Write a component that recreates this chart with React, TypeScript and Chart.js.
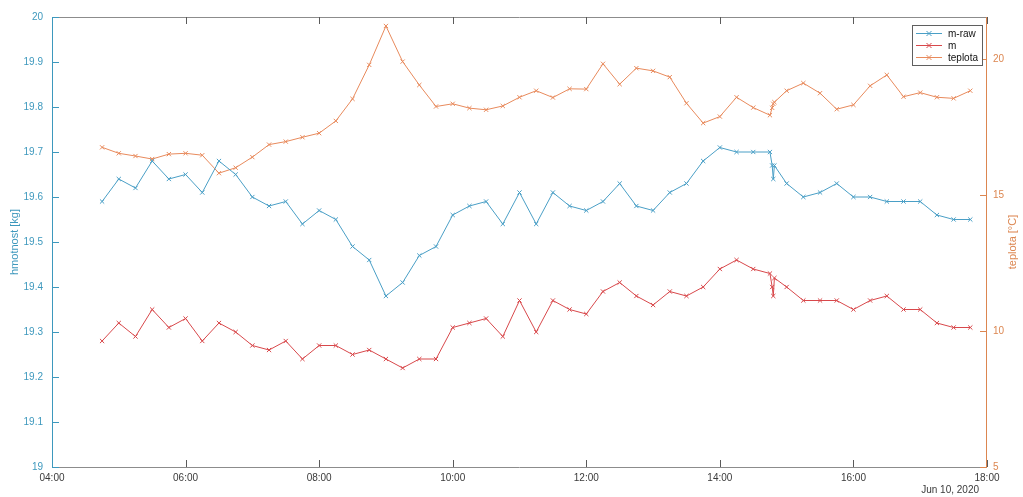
import React, { useEffect, useRef } from "react";
import { Chart, registerables } from "chart.js";

Chart.register(...registerables);

// ---------- data ----------
const times = [
  "04:45", "05:00", "05:15", "05:30", "05:45", "06:00", "06:15", "06:30", "06:45",
  "07:00", "07:15", "07:30", "07:45", "08:00", "08:15", "08:30", "08:45",
  "09:00", "09:15", "09:30", "09:45", "10:00", "10:15", "10:30", "10:45",
  "11:00", "11:15", "11:30", "11:45", "12:00", "12:15", "12:30", "12:45",
  "13:00", "13:15", "13:30", "13:45", "14:00", "14:15", "14:30", "14:45",
  "14:47", "14:48", "14:49",
  "15:00", "15:15", "15:30", "15:45", "16:00", "16:15", "16:30", "16:45",
  "17:00", "17:15", "17:30", "17:45",
];

const mRaw = [
  19.59, 19.64, 19.62, 19.68, 19.64, 19.65, 19.61, 19.68, 19.65,
  19.60, 19.58, 19.59, 19.54, 19.57, 19.55, 19.49, 19.46,
  19.38, 19.41, 19.47, 19.49, 19.56, 19.58, 19.59, 19.54,
  19.61, 19.54, 19.61, 19.58, 19.57, 19.59, 19.63, 19.58,
  19.57, 19.61, 19.63, 19.68, 19.71, 19.70, 19.70, 19.70,
  19.67, 19.64, 19.67,
  19.63, 19.60, 19.61, 19.63, 19.60, 19.60, 19.59, 19.59,
  19.59, 19.56, 19.55, 19.55,
];

const mSmooth = [
  19.28, 19.32, 19.29, 19.35, 19.31, 19.33, 19.28, 19.32, 19.30,
  19.27, 19.26, 19.28, 19.24, 19.27, 19.27, 19.25, 19.26,
  19.24, 19.22, 19.24, 19.24, 19.31, 19.32, 19.33, 19.29,
  19.37, 19.30, 19.37, 19.35, 19.34, 19.39, 19.41, 19.38,
  19.36, 19.39, 19.38, 19.40, 19.44, 19.46, 19.44, 19.43,
  19.40, 19.38, 19.42,
  19.40, 19.37, 19.37, 19.37, 19.35, 19.37, 19.38, 19.35,
  19.35, 19.32, 19.31, 19.31,
];

const teplota = [
  16.75, 16.53, 16.43, 16.32, 16.50, 16.53, 16.46, 15.80, 16.00,
  16.39, 16.85, 16.96, 17.12, 17.27, 17.72, 18.53, 19.78,
  21.21, 19.90, 19.04, 18.25, 18.35, 18.19, 18.13, 18.27,
  18.59, 18.83, 18.58, 18.90, 18.89, 19.82, 19.07, 19.66,
  19.56, 19.33, 18.37, 17.64, 17.88, 18.59, 18.21, 17.93,
  18.20, 18.35, 18.41,
  18.83, 19.11, 18.74, 18.15, 18.31, 19.01, 19.41, 18.61,
  18.76, 18.59, 18.55, 18.83,
];

const seriesNames = ["m-raw", "m", "teplota"];
const xTickHours = [4, 6, 8, 10, 12, 14, 16, 18];
const xTickLabels = ["04:00", "06:00", "08:00", "10:00", "12:00", "14:00", "16:00", "18:00"];
const leftTicks = [19, 19.1, 19.2, 19.3, 19.4, 19.5, 19.6, 19.7, 19.8, 19.9, 20];
const leftTickLabels = ["19", "19.1", "19.2", "19.3", "19.4", "19.5", "19.6", "19.7", "19.8", "19.9", "20"];
const rightTicks = [5, 10, 15, 20];
const rightTickLabels = ["5", "10", "15", "20"];
const leftTitle = "hmotnost [kg]";
const rightTitle = "teplota [°C]";
const dateLabel = "Jun 10, 2020";

// ---------- style ----------
const FONT = "'Liberation Sans', Arial, sans-serif";
const LEFT_COLOR = "#3d98bd";
const RIGHT_COLOR = "#dc8650";
const BLUE = "#4a9fc6";
const RED = "#d8484b";
const ORANGE = "#e88a5c";
const TEXT = "#3a3a3a";

const toHours = (s: string) => {
  const [h, m] = s.split(":").map(Number);
  return h + m / 60;
};

const mkData = (vals: number[]) => times.map((t, i) => ({ x: toHours(t), y: vals[i] }));

const decorPlugin = {
  id: "matlabDecor",
  afterDraw(chart: any) {
    const { ctx, chartArea: a, scales } = chart;
    const x = scales.x, yL = scales.y, yR = scales.y1;
    ctx.save();
    ctx.lineWidth = 1;
    // box
    ctx.strokeStyle = "#8c8c8c";
    ctx.beginPath();
    ctx.moveTo(a.left, a.top + 0.5); ctx.lineTo(a.right, a.top + 0.5);
    ctx.moveTo(a.left, a.bottom + 0.5); ctx.lineTo(a.right, a.bottom + 0.5);
    ctx.stroke();
    // x ticks (bottom and top, inward)
    ctx.strokeStyle = "#5a5a5a";
    ctx.beginPath();
    xTickHours.forEach((h) => {
      const px = Math.round(x.getPixelForValue(h)) + 0.5;
      ctx.moveTo(px, a.bottom); ctx.lineTo(px, a.bottom - 7);
      ctx.moveTo(px, a.top); ctx.lineTo(px, a.top + 7);
    });
    ctx.stroke();
    // left axis
    ctx.strokeStyle = LEFT_COLOR;
    ctx.beginPath();
    ctx.moveTo(a.left + 0.5, a.top); ctx.lineTo(a.left + 0.5, a.bottom + 1);
    leftTicks.forEach((v) => {
      const py = Math.round(yL.getPixelForValue(v)) + 0.5;
      ctx.moveTo(a.left, py); ctx.lineTo(a.left + 7, py);
    });
    ctx.stroke();
    // right axis
    ctx.strokeStyle = RIGHT_COLOR;
    ctx.beginPath();
    ctx.moveTo(a.right - 0.5, a.top); ctx.lineTo(a.right - 0.5, a.bottom + 1);
    rightTicks.forEach((v) => {
      const py = Math.round(yR.getPixelForValue(v)) + 0.5;
      ctx.moveTo(a.right, py); ctx.lineTo(a.right - 7, py);
    });
    ctx.stroke();

    // axis titles
    ctx.font = `11px ${FONT}`;
    ctx.textAlign = "center";
    ctx.textBaseline = "middle";
    const midY = (a.top + a.bottom) / 2;
    ctx.fillStyle = LEFT_COLOR;
    ctx.save();
    ctx.translate(15, midY);
    ctx.rotate(-Math.PI / 2);
    ctx.fillText(leftTitle, 0, 0);
    ctx.restore();
    ctx.fillStyle = RIGHT_COLOR;
    ctx.save();
    ctx.translate(1013, midY);
    ctx.rotate(-Math.PI / 2);
    ctx.fillText(rightTitle, 0, 0);
    ctx.restore();

    // date label
    ctx.fillStyle = TEXT;
    ctx.font = `10px ${FONT}`;
    ctx.textAlign = "right";
    ctx.fillText(dateLabel, a.right - 8, 490);

    // legend
    const bx = 912, by = 25, bw = 70, bh = 40;
    ctx.fillStyle = "#ffffff";
    ctx.fillRect(bx, by, bw, bh);
    ctx.strokeStyle = "#5f5f5f";
    ctx.strokeRect(bx + 0.5, by + 0.5, bw, bh);
    const cols = [BLUE, RED, ORANGE];
    seriesNames.forEach((name, i) => {
      const ly = by + 8 + i * 12;
      ctx.strokeStyle = cols[i];
      ctx.beginPath();
      ctx.moveTo(bx + 4, ly + 0.5); ctx.lineTo(bx + 30, ly + 0.5);
      const cx = bx + 17;
      ctx.moveTo(cx - 2.5, ly - 2); ctx.lineTo(cx + 2.5, ly + 3);
      ctx.moveTo(cx - 2.5, ly + 3); ctx.lineTo(cx + 2.5, ly - 2);
      ctx.stroke();
      ctx.fillStyle = "#111";
      ctx.font = `10px ${FONT}`;
      ctx.textAlign = "left";
      ctx.textBaseline = "middle";
      ctx.fillText(name, bx + 36, ly + 1);
    });
    ctx.restore();
  },
};

export default function App() {
  const ref = useRef<HTMLCanvasElement | null>(null);

  useEffect(() => {
    if (!ref.current) return;
    const common = {
      borderWidth: 1,
      pointStyle: "crossRot",
      pointRadius: 3,
      pointBorderWidth: 1,
      pointBackgroundColor: "transparent",
      tension: 0,
      fill: false,
    };
    const noGrid = { display: false, drawTicks: false, tickLength: 0 };
    const chart = new Chart(ref.current, {
      type: "line",
      data: {
        datasets: [
          { ...common, label: seriesNames[0], data: mkData(mRaw), yAxisID: "y", borderColor: BLUE, pointBorderColor: BLUE },
          { ...common, label: seriesNames[1], data: mkData(mSmooth), yAxisID: "y", borderColor: RED, pointBorderColor: RED },
          { ...common, label: seriesNames[2], data: mkData(teplota), yAxisID: "y1", borderColor: ORANGE, pointBorderColor: ORANGE },
        ] as any,
      },
      options: {
        animation: false,
        responsive: false,
        maintainAspectRatio: false,
        layout: { padding: { top: 17, left: 0, right: 0, bottom: 0 } },
        plugins: { legend: { display: false }, tooltip: { enabled: false } },
        scales: {
          x: {
            type: "linear",
            min: 4,
            max: 18,
            afterBuildTicks: (s: any) => { s.ticks = xTickHours.map((v) => ({ value: v })); },
            afterFit: (s: any) => { s.height = 30; },
            grid: noGrid,
            border: { display: false },
            ticks: {
              padding: 5,
              maxRotation: 0,
              autoSkip: false,
              color: TEXT,
              font: { family: FONT, size: 10 },
              callback: (v: any) => xTickLabels[xTickHours.indexOf(Number(v))] ?? "",
            },
          },
          y: {
            type: "linear",
            position: "left",
            min: 19,
            max: 20,
            afterBuildTicks: (s: any) => { s.ticks = leftTicks.map((v) => ({ value: v })); },
            afterFit: (s: any) => { s.width = 52; },
            grid: noGrid,
            border: { display: false },
            ticks: {
              padding: 9,
              autoSkip: false,
              color: LEFT_COLOR,
              font: { family: FONT, size: 10 },
              callback: (v: any) => {
                const i = leftTicks.findIndex((t) => Math.abs(t - Number(v)) < 1e-6);
                return i >= 0 ? leftTickLabels[i] : "";
              },
            },
          },
          y1: {
            type: "linear",
            position: "right",
            min: 5,
            max: 21.54,
            afterBuildTicks: (s: any) => { s.ticks = rightTicks.map((v) => ({ value: v })); },
            afterFit: (s: any) => { s.width = 36; },
            grid: noGrid,
            border: { display: false },
            ticks: {
              padding: 6,
              autoSkip: false,
              color: RIGHT_COLOR,
              font: { family: FONT, size: 10 },
              callback: (v: any) => {
                const i = rightTicks.indexOf(Number(v));
                return i >= 0 ? rightTickLabels[i] : "";
              },
            },
          },
        },
      } as any,
      plugins: [decorPlugin],
    });
    return () => chart.destroy();
  }, []);

  return (
    <div style={{ position: "fixed", left: 0, top: 0, width: 1023, height: 497, background: "#fff" }}>
      <canvas ref={ref} width={1023} height={497} style={{ display: "block" }} />
    </div>
  );
}
